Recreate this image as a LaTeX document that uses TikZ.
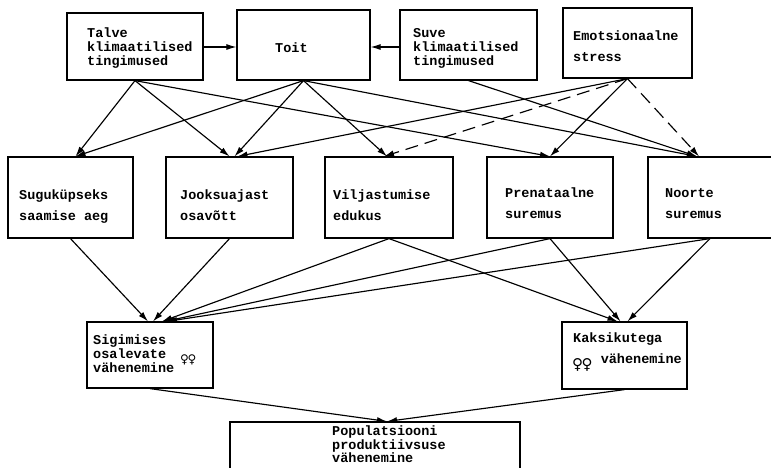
\documentclass[tikz,border=0pt]{standalone}
\usepackage{fontspec}
\newfontfamily\tw{Liberation Mono}
\newfontfamily\symf{DejaVu Sans}
\usetikzlibrary{arrows.meta}
\newcommand\fem[3]{\smash{\raisebox{#2}{\symf\fontsize{#1}{#1}\selectfont\kern#3♀\kern-1.5pt♀}}}
\begin{document}
\begin{tikzpicture}[x=1pt,y=-1pt,
  box/.style={draw, line width=1.2pt, rectangle, inner sep=0pt},
  txt/.style={anchor=north west, inner sep=0pt, align=left,
    font=\tw\bfseries\fontsize{13.5}{14}\selectfont},
  ntxt/.style={txt, font=\tw\bfseries\fontsize{13.5}{13.5}\selectfont},
  wtxt/.style={txt, font=\tw\bfseries\fontsize{13.5}{21}\selectfont},
  arr/.style={line width=1.15pt, -{Latex[length=10pt,width=6pt]}},
  darr/.style={arr, dash pattern=on 13pt off 7pt}]
\useasboundingbox (0,0) rectangle (771,467);
\fill[white] (0,0) rectangle (771,467);
\clip (0,0) rectangle (771,467);

% top row
\node[box, minimum width=136pt, minimum height=67pt] (talve) at (135,46.5) {};
\node[box, minimum width=133pt, minimum height=70pt] (toit) at (303.5,45) {};
\node[box, minimum width=137pt, minimum height=70pt] (suve) at (468.5,45) {};
\node[box, minimum width=129pt, minimum height=70pt] (emots) at (627.5,43) {};
\node[txt] (t-talve) at (87,28) {Talve\\klimaatilised\\tingimused};
\node[txt] (t-toit) at (275,43) {Toit};
\node[txt] (t-suve) at (413,28) {Suve\\klimaatilised\\tingimused};
\node[wtxt] (t-emots) at (573,31) {Emotsionaalne\\stress};

% middle row
\node[box, minimum width=125pt, minimum height=81pt] (sugu) at (70.5,197.5) {};
\node[box, minimum width=127pt, minimum height=81pt] (jooksu) at (229.5,197.5) {};
\node[box, minimum width=128pt, minimum height=81pt] (vilja) at (389,197.5) {};
\node[box, minimum width=126pt, minimum height=81pt] (pren) at (550,197.5) {};
\node[box, minimum width=128pt, minimum height=81pt] (noorte) at (712,197.5) {};
\node[wtxt] (t-sugu) at (19,190) {Suguküpseks\\saamise aeg};
\node[wtxt] (t-jooksu) at (180,190) {Jooksuajast\\osavõtt};
\node[wtxt] (t-vilja) at (333,190) {Viljastumise\\edukus};
\node[wtxt] (t-pren) at (505,188) {Prenataalne\\suremus};
\node[wtxt] (t-noorte) at (665,188) {Noorte\\suremus};

% bottom rows
\node[box, minimum width=126pt, minimum height=66pt] (sigim) at (150,355) {};
\node[box, minimum width=125pt, minimum height=67pt] (kaksik) at (624.5,355.5) {};
\node[box, minimum width=290pt, minimum height=60pt] (popul) at (375,452) {};
\node[txt] (t-sigim) at (93,335) {Sigimises\\osalevate \fem{12}{-5pt}{6pt}\\vähenemine};
\node[wtxt] (t-kaksik) at (573,333) {Kaksikutega\\\fem{15}{-6pt}{-1pt} vähenemine};
\node[ntxt] (t-popul) at (332,426) {Populatsiooni\\produktiivsuse\\vähenemine};

% horizontal arrows
\draw[arr] ([yshift=-0.5pt]talve.east) -- ([yshift=-0.5pt]toit.west |- talve.east);
\draw[arr] ([yshift=-2pt]suve.west) -- ([yshift=-2pt]toit.east |- suve.west);

% top -> middle
\draw[arr] (talve.south) -- ([xshift=5pt]sugu.north);
\draw[arr] (talve.south) -- (jooksu.north);
\draw[arr] (talve.south) -- (pren.north);
\draw[arr] (toit.south) -- ([xshift=5pt]sugu.north);
\draw[arr] (toit.south) -- ([xshift=5pt]jooksu.north);
\draw[arr] (toit.south) -- ([xshift=-2pt]vilja.north);
\draw[arr] (toit.south) -- ([xshift=-15pt]noorte.north);
\draw[arr] (suve.south) -- ([xshift=-15pt]noorte.north);
\draw[arr] (emots.south) -- ([xshift=8pt]jooksu.north);
\draw[arr] (emots.south) -- (pren.north);
\draw[darr] (emots.south) -- ([xshift=-5pt]vilja.north);
\draw[darr] (emots.south) -- ([xshift=-13pt]noorte.north);

% middle -> bottom
\draw[arr] (sugu.south) -- ([xshift=-2pt]sigim.north);
\draw[arr] (jooksu.south) -- ([xshift=3pt]sigim.north);
\draw[arr] (vilja.south) -- ([xshift=12pt]sigim.north);
\draw[arr] (pren.south) -- ([xshift=15pt]sigim.north);
\draw[arr] ([xshift=-2pt]noorte.south) -- ([xshift=17pt]sigim.north);
\draw[arr] (vilja.south) -- ([xshift=-7pt]kaksik.north);
\draw[arr] (pren.south) -- ([xshift=-4pt]kaksik.north);
\draw[arr] ([xshift=-2pt]noorte.south) -- ([xshift=3pt]kaksik.north);

% bottom -> result
\draw[arr] (sigim.south) -- ([xshift=12pt]popul.north);
\draw[arr] (kaksik.south) -- ([xshift=12pt]popul.north);
\end{tikzpicture}
\end{document}
